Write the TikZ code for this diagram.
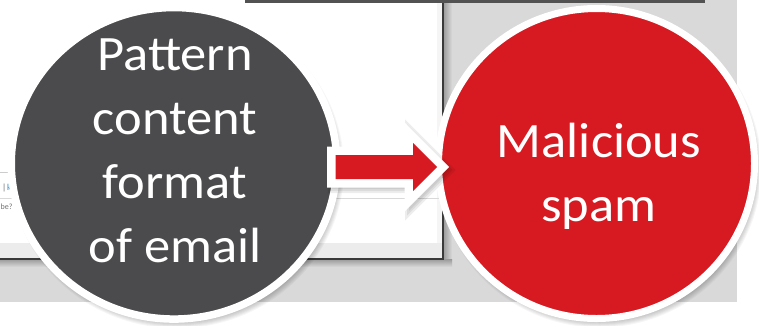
\documentclass[tikz,border=0pt]{standalone}
\usepackage{fontspec}
\setmainfont{Carlito}
\usetikzlibrary{calc,shapes.geometric}
\definecolor{darkc}{HTML}{4B4B4D}
\definecolor{redc}{HTML}{D71A21}
\definecolor{bggrey}{HTML}{D9D9D9}
\definecolor{winline}{HTML}{3A3A3A}
\definecolor{stripgrey}{HTML}{ECECEC}
\definecolor{linkblue}{HTML}{2E8BC9}
\tikzset{
  bubble/.style={ellipse, draw=white, inner sep=0pt},
  bubbletext/.style={text=white, align=center, inner sep=0pt, xscale=1.06, font=\fontsize{49.5}{64}\selectfont},
  arrowbody/.style={fill=redc, draw=white, line width=17pt, line join=miter, miter limit=10},
  arrowshadow/.style={fill=black, draw=black, opacity=0.07, line join=miter, miter limit=10},
}
\begin{document}
\begin{tikzpicture}[x=1pt,y=-1pt]
\useasboundingbox (0,0) rectangle (759,325);
\clip (0,0) rectangle (759,325);
% background
\fill[white] (0,0) rectangle (759,325);
\fill[bggrey] (0,0) rectangle (737,302);
% window shadow
\shade[left color=black!40, right color=bggrey] (443,2) rectangle (452,262);
\shade[top color=black!40, bottom color=bggrey] (0,259) rectangle (452,267);
% window
\fill[white] (0,0) rectangle (443,259);
\fill[black!4] (437,2) rectangle (443,259);
\fill[stripgrey] (0,243) rectangle (443,258);
\draw[black!15, line width=0.8pt] (0,198) -- (443,198);
\draw[black!20, line width=0.8pt] (0,172) -- (16,172);
\draw[winline, line width=1.2pt] (443,2) -- (443,259.5);
\draw[winline, line width=1.2pt] (0,259) -- (443.6,259);
\fill[black!68] (245,0) rectangle (705,2.5);
\node[anchor=base west, inner sep=0pt, text=black!60, font=\fontsize{9}{9}\selectfont] (bar) at (2,190) {|};
\node[anchor=base west, inner sep=0pt, text=linkblue, font=\fontsize{9}{9}\selectfont] (lk) at (7,190) {k};
\node[anchor=base west, inner sep=0pt, text=black!55, font=\fontsize{8}{8}\selectfont] (q) at (0.5,209) {be?};
% centres
\coordinate (c1) at (174,163.3);
\coordinate (c2) at (596.5,163.5);
% shadows
\foreach \i in {0,...,7}{
  \fill[black, opacity=0.035] ($(c1)+(3,5)$) ellipse[x radius={(160+\i)*1pt}, y radius={(153+\i)*1pt}];
  \fill[black, opacity=0.035] ($(c2)+(3,5)$) ellipse[x radius={(155+\i)*1pt}, y radius={(152+\i)*1pt}];
}
% circles
\node[bubble, fill=darkc, line width=7.5pt, minimum width=325.5pt, minimum height=311.5pt] (src) at (c1) {};
\node[bubble, fill=redc, line width=7pt, minimum width=316pt, minimum height=310pt] (dst) at (c2) {};
\node[bubbletext] (srctext) at (175,151) {Pattern\\content\\format\\of email};
\node[bubbletext] (dsttext) at (599,176) {Malicious\\spam};
% arrow
\coordinate (tail) at ($(src.east)+(-5,3.7)$);
\coordinate (tip) at ($(dst.west)+(2,3.5)$);
\coordinate (hb) at ($(tip)+(-24,0)$);
\foreach \w in {14,18,22}{
  \path[arrowshadow, line width=\w pt] ($(tail)+(3,-9)$) -- ($(hb)+(3,-9)$) -- ($(hb)+(3,-21)$) -- ($(tip)+(3,3)$) -- ($(hb)+(3,27)$) -- ($(hb)+(3,15)$) -- ($(tail)+(3,15)$) -- cycle;
}
\path[arrowbody] (tail) ++(0,-12) -- ($(hb)+(0,-12)$) -- ($(hb)+(0,-24)$) -- (tip) -- ($(hb)+(0,24)$) -- ($(hb)+(0,12)$) -- ($(tail)+(0,12)$) -- cycle;
\fill[redc] (tail) ++(0,-12) -- ($(hb)+(0,-12)$) -- ($(hb)+(0,-24)$) -- (tip) -- ($(hb)+(0,24)$) -- ($(hb)+(0,12)$) -- ($(tail)+(0,12)$) -- cycle;
\end{tikzpicture}
\end{document}
